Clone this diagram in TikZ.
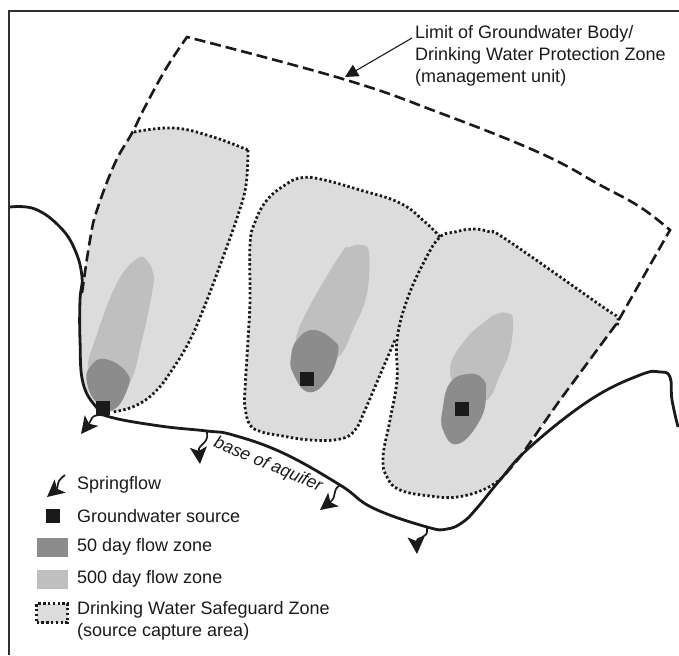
\documentclass[tikz,border=0pt]{standalone}
\usepackage{fontspec}
\setmainfont{Liberation Sans}
\usepackage{tikz}
\usetikzlibrary{arrows.meta}
\definecolor{zonegrey}{HTML}{DDDCDD}
\definecolor{lightgrey}{HTML}{BFBFBF}
\definecolor{darkgrey}{HTML}{8C8C8C}
\definecolor{inkgrey}{HTML}{1A1A1A}

\begin{document}
\begin{tikzpicture}[
  x=1pt, y=-1pt,
  frameline/.style={draw=inkgrey!90, line width=2.4pt},
  limitline/.style={draw=inkgrey, line width=2.6pt, dash pattern=on 11pt off 5pt},
  dotline/.style={draw=inkgrey, line width=2.8pt, dash pattern=on 2.4pt off 2.4pt},
  baseline/.style={draw=inkgrey, line width=2.8pt},
  springarrow/.style={draw=inkgrey, line width=1.7pt, -{Stealth[length=17pt, width=17pt, inset=4pt]}},
  leader/.style={draw=inkgrey, line width=1.1pt, -{Triangle[length=13pt, width=13pt]}},
  source/.style={fill=inkgrey, minimum size=14pt, inner sep=0pt},
  keybox/.style={minimum width=31pt, minimum height=19pt, inner sep=0pt},
  label/.style={font=\fontsize{18pt}{22pt}\selectfont, anchor=west, inner sep=0pt, text=inkgrey}
]
  \useasboundingbox (0,0) rectangle (679,655);

  % Frame
  \draw[frameline] (9,655) -- (9,11) -- (679,11);

  % Safeguard zones
  \fill[zonegrey] plot[smooth, tension=0.7] coordinates {(132,133) (173,128) (210,136) (248,150)}
    -- plot[smooth, tension=0.7] coordinates {(248,150) (246,185) (238,215) (222,260) (205,305) (190,340) (172,370) (155,392) (135,406) (113,412) (100,410)}
    -- plot[smooth, tension=0.7] coordinates {(97,408) (83,383) (80,340) (82,293) (90,240) (97,210) (115,163) (132,133)} -- cycle;
  \fill[zonegrey] plot[smooth cycle, tension=0.7] coordinates {(440,237) (425,260) (407,300) (395,340) (380,375) (365,410) (355,430) (340,439) (310,440) (277,435) (262,432) (250,425) (245,407) (245,390) (248,340) (250,300) (250,245) (255,222) (267,200) (285,185) (300,178) (320,179) (360,190) (400,203) (425,222)};
  \fill[zonegrey] plot[smooth, tension=0.7] coordinates {(440,237) (455,232) (473,229) (490,232) (507,240) (600,305) (617,317)}
    -- (617,325) -- (503,477)
    -- plot[smooth, tension=0.7] coordinates {(503,477) (485,489) (457,497) (430,496) (400,490) (387,477) (383,457) (390,420) (397,380) (397,340) (407,300) (425,260) (440,237)} -- cycle;

  % Zone outlines
  \draw[dotline] plot[smooth, tension=0.7] coordinates {(134,132) (173,128) (210,136) (248,150)};
  \draw[dotline] plot[smooth, tension=0.7] coordinates {(248,150) (246,185) (238,215) (222,260) (205,305) (190,340) (172,370) (155,392) (135,406) (113,412)};
  \draw[dotline] plot[smooth, tension=0.7] coordinates {(440,237) (425,222) (400,203) (360,190) (320,179) (300,178) (285,185) (267,200) (255,222) (250,245) (250,300) (248,340) (245,390) (245,407) (250,425) (262,432) (277,435) (310,440) (340,439) (355,430) (365,410) (380,375) (395,340)};
  \draw[dotline] plot[smooth, tension=0.7] coordinates {(617,325) (617,317) (600,305) (507,240) (490,232) (473,229) (455,232) (440,237) (425,260) (407,300) (397,340) (397,380) (390,420) (383,457) (387,477) (400,490) (430,496) (457,497) (485,489) (503,477)};

  % 500 day flow zones
  \fill[lightgrey] plot[smooth cycle, tension=0.7] coordinates {(138,258) (148,262) (153,273) (153,287) (142,340) (128,385) (100,395) (88,370) (95,340) (117,283)};
  \fill[lightgrey] plot[smooth cycle, tension=0.7] coordinates {(350,247) (362,245) (369,253) (367,293) (355,325) (335,360) (300,360) (295,345) (305,315) (340,255)};
  \fill[lightgrey] plot[smooth cycle, tension=0.7] coordinates {(497,314) (507,313) (513,320) (510,350) (500,375) (487,400) (465,400) (450,370) (465,340) (487,320)};

  % 50 day flow zones
  \fill[darkgrey] plot[smooth cycle, tension=0.8] coordinates {(105,359) (127,373) (127,390) (113,410) (97,403) (87,383) (90,367)};
  \fill[darkgrey] plot[smooth cycle, tension=0.8] coordinates {(313,330) (333,340) (338,353) (327,380) (308,392) (293,373) (291,357) (297,340)};
  \fill[darkgrey] plot[smooth cycle, tension=0.8] coordinates {(467,374) (482,378) (486,393) (480,420) (458,444) (443,430) (443,407) (450,383)};

  % Limit of groundwater body
  \draw[limitline] plot[smooth, tension=0.7] coordinates {(82,293) (90,240) (97,210) (115,163) (132,133) (147,103) (167,67) (187,37)}
    -- plot[smooth, tension=0.7] coordinates {(187,37) (343,79) (440,113) (540,153) (600,185) (640,207) (670,230)}
    -- (617,323) -- (560,400) -- (520,457) -- (503,477);

  % Base of aquifer
  \draw[baseline] plot[smooth, tension=0.7] coordinates {(10,207) (35,209) (60,227) (75,250) (82,277) (80,300) (80,340) (83,383) (97,408) (110,417) (160,426) (207,431) (233,435) (283,453) (340,485) (373,508) (427,527) (447,529) (463,522) (477,508) (500,480) (530,447) (590,400) (640,375) (660,372) (670,377) (672,400) (678,427)};
  \node[label, anchor=center, font=\fontsize{17.5pt}{20pt}\selectfont\itshape, rotate=-23] (aquiferlabel) at (268,465) {base of aquifer};

  % Groundwater sources
  \node[source] (sourcea) at (103,408) {};
  \node[source] (sourceb) at (307,379) {};
  \node[source] (sourcec) at (462,409) {};

  % Springflow
  \draw[springarrow] (sourcea.south) .. controls (90,414) and (92,420) .. (81,434);
  \coordinate (springb) at (207,432);
  \draw[springarrow] (springb) .. controls (209,445) and (198,443) .. (200,464);
  \coordinate (springc) at (340,485);
  \draw[springarrow] (springc) .. controls (331,491) and (338,496) .. (320,510);
  \coordinate (springd) at (427,528);
  \draw[springarrow] (springd) .. controls (429,540) and (416,536) .. (417,554);

  % Limit label
  \node[label] (limittop) at (415,34) {Limit of Groundwater Body/};
  \node[label] (limitmid) at (415,56) {Drinking Water Protection Zone};
  \node[label] (limitlow) at (415,78) {(management unit)};
  \coordinate (limittip) at (345,77);
  \draw[leader] ([shift={(-3,4)}]limittop.west) -- (limittip);

  % Legend
  \coordinate (keyspringstart) at (65,475);
  \coordinate (keyspringtip) at (47,497);
  \draw[springarrow] (keyspringstart) .. controls (55,482) and (59,487) .. (keyspringtip);
  \node[source] (keysource) at (53,516) {};
  \node[keybox, fill=darkgrey] (keyfifty) at (52,547) {};
  \node[keybox, fill=lightgrey] (keyfivehundred) at (52,579) {};
  \node[keybox, fill=zonegrey, dotline] (keyzone) at (52,613) {};

  \node[label] (textspring) at (77,485) {Springflow};
  \node[label] (textsource) at (77,516) {Groundwater source};
  \node[label] (textfifty) at (77,547) {50 day flow zone};
  \node[label] (textfivehundred) at (77,579) {500 day flow zone};
  \node[label] (textzone) at (77,610) {Drinking Water Safeguard Zone};
  \node[label] (textcapture) at (77,632) {(source capture area)};
\end{tikzpicture}
\end{document}
